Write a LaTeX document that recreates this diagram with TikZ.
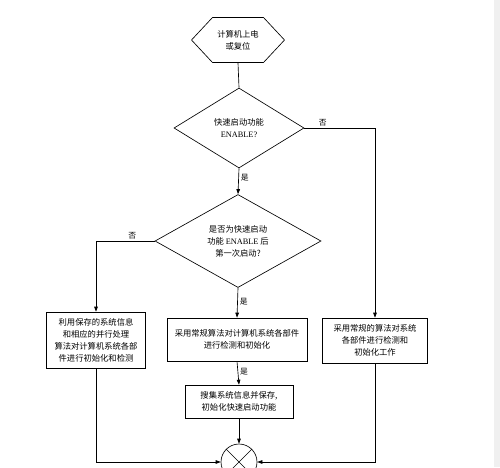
\documentclass[tikz,border=0pt]{standalone}
\usepackage{fontspec}
\setmainfont{Liberation Serif}
\newfontfamily\cjk{Noto Sans CJK SC}
\usetikzlibrary{calc,positioning,arrows.meta,shapes.geometric,shapes.symbols}

\begin{document}
\begin{tikzpicture}[x=1pt,y=-1pt,>={Triangle[length=5pt,width=3.6pt]},
  every node/.style={font=\cjk\fontsize{8.3}{12}\selectfont,align=center},
  hexa/.style={draw,shape=signal,signal to=east and west,signal pointer angle=94,inner sep=0pt,minimum width=93pt,minimum height=45pt},
  ask/.style={draw,shape=diamond,inner sep=0pt},
  proc/.style={draw,rectangle,inner sep=0pt},
  lab/.style={font=\cjk\fontsize{7.8}{9}\selectfont,inner sep=2pt},
  line width=0.65pt]
\useasboundingbox (0,0) rectangle (500,467);
\fill[gray!12] (494,0) rectangle (500,467);
% nodes
\node[hexa] (start) at (238,40) {计算机上电\\或复位};
\node[ask,minimum width=130pt,minimum height=80pt] (fast) at (239,128) {快速启动功能\\{\rmfamily ENABLE?}};
\node[ask,minimum width=166pt,minimum height=80pt] (first) at (238,241) {是否为快速启动\\功能 {\rmfamily ENABLE} 后\\第一次启动?};
\node[proc,minimum width=99pt,minimum height=56pt] (saved) at (96,340) {利用保存的系统信息\\和相应的并行处理\\算法对计算机系统各部\\件进行初始化和检测};
\node[proc,minimum width=140pt,minimum height=43pt] (normal) at (237,339.5) {采用常规算法对计算机系统各部件\\进行检测和初始化};
\node[proc,minimum width=105pt,minimum height=45pt] (plain) at (375,340.5) {采用常规的算法对系统\\各部件进行检测和\\初始化工作};
\node[proc,minimum width=108pt,minimum height=33pt] (store) at (239,401.5) {搜集系统信息并保存,\\初始化快速启动功能};
\node[draw,circle,minimum size=36pt,inner sep=0pt] (join) at (239,462) {};
\draw (join.135)--(join.-45);\draw (join.45)--(join.-135);
% connectors
\draw (start.south)--(fast.north);
\draw[->] (fast.south)--node[lab,right,pos=0.35]{是}(first.north);
\draw[->] (fast.east)-|node[lab,above,pos=0.13]{否}(plain.north);
\draw[->] (first.west)-|node[lab,above,pos=0.19]{否}(saved.north);
\draw[->] (first.south)--node[lab,right,pos=0.45]{是}(normal.north);
\draw[->] (normal.south)--node[lab,right,pos=0.45]{是}(store.north);
\draw[->] (store.south)--(join.north);
\draw[->] (saved.south)|-(join.west);
\draw[->] (plain.south)|-(join.east);
\end{tikzpicture}
\end{document}
